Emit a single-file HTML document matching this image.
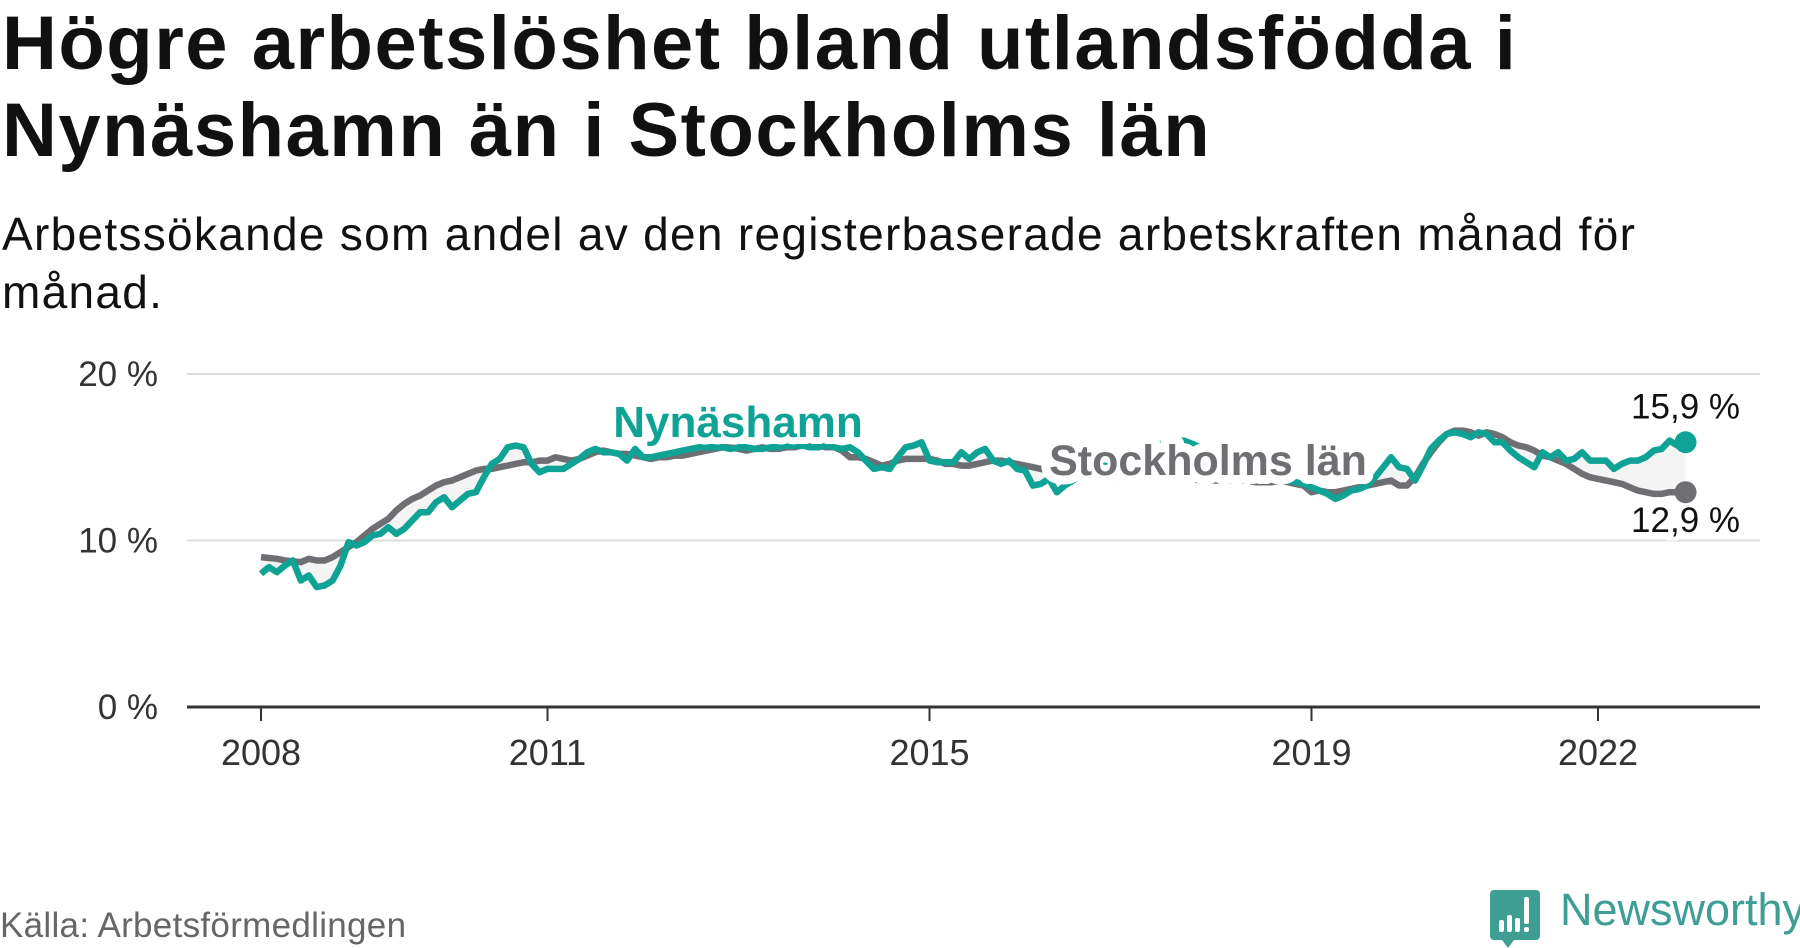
<!DOCTYPE html>
<html><head><meta charset="utf-8">
<style>
html,body{margin:0;padding:0;background:#fff;}
body{width:1800px;height:948px;overflow:hidden;position:relative;font-family:"Liberation Sans","DejaVu Sans",sans-serif;}
h1{position:absolute;left:2px;top:0px;margin:0;font-size:76px;line-height:87px;font-weight:bold;color:#111;letter-spacing:1.5px;width:1790px;white-space:nowrap;}
.sub{position:absolute;left:2px;top:205px;margin:0;font-size:46px;line-height:58px;color:#111;width:1790px;white-space:nowrap;letter-spacing:1.3px;}
.src{position:absolute;left:0;top:906px;font-size:35px;color:#666;letter-spacing:0.3px;}
svg{position:absolute;left:0;top:0;}
</style></head><body>
<h1>Högre arbetslöshet bland utlandsfödda i<br>Nynäshamn än i Stockholms län</h1>
<p class="sub">Arbetssökande som andel av den registerbaserade arbetskraften månad för<br>månad.</p>
<div class="src">Källa: Arbetsförmedlingen</div>
<svg id="chart" width="1800" height="948"></svg>
<svg width="1800" height="948" style="pointer-events:none">
  <path d="M1494 890 h42 a4 4 0 0 1 4 4 v42 a4 4 0 0 1 -4 4 h-22 l-6 8 l-6 -8 h-8 a4 4 0 0 1 -4 -4 v-42 a4 4 0 0 1 4 -4z" fill="#3e9e94"/>
  <rect x="1499" y="920" width="5" height="12" rx="2" fill="#fff"/>
  <rect x="1507" y="915" width="5" height="17" rx="2" fill="#fff"/>
  <rect x="1515" y="918" width="5" height="14" rx="2" fill="#fff"/>
  <rect x="1524" y="897" width="5" height="27" rx="2" fill="#fff"/>
  <rect x="1524" y="927" width="5" height="5" rx="2" fill="#fff"/>
  <text x="1560" y="925" font-size="45" font-family="Liberation Sans, sans-serif" fill="#3e9e94">Newsworthy</text>
</svg>
<script>
const yTicks = [0, 10, 20];
const xTickYears = [2008, 2011, 2015, 2019, 2022];
const startYear = 2008;
const stockholm = [
9.0,8.95,8.9,8.8,8.75,8.7,8.9,8.8,8.8,9.0,9.3,9.6,
9.9,10.3,10.7,11.0,11.3,11.8,12.2,12.5,12.7,13.0,13.3,13.5,
13.6,13.8,14.0,14.2,14.3,14.3,14.4,14.5,14.6,14.7,14.7,14.8,
14.8,15.0,14.9,14.8,14.9,15.1,15.3,15.4,15.3,15.2,15.2,15.1,
15.0,14.9,15.0,15.0,15.1,15.1,15.2,15.3,15.4,15.5,15.6,15.6,
15.5,15.4,15.5,15.6,15.5,15.5,15.6,15.6,15.7,15.7,15.7,15.6,
15.6,15.4,15.0,15.0,14.9,14.7,14.5,14.6,14.8,14.9,14.9,14.9,
14.9,14.8,14.6,14.6,14.5,14.5,14.6,14.7,14.8,14.8,14.7,14.6,
14.5,14.4,14.3,14.2,14.1,14.0,13.9,13.9,13.8,13.8,13.8,13.8,
13.8,13.8,13.8,13.7,13.7,13.7,13.7,13.7,13.7,13.7,13.6,13.6,
13.6,13.6,13.6,13.6,13.6,13.5,13.5,13.5,13.6,13.5,13.4,13.3,
12.9,13.0,12.9,12.9,13.0,13.1,13.2,13.3,13.4,13.5,13.6,13.3,
13.3,13.8,14.6,15.3,15.9,16.4,16.6,16.6,16.5,16.3,16.5,16.4,
16.2,15.9,15.7,15.6,15.4,15.1,15.0,14.8,14.6,14.3,14.0,13.8,
13.7,13.6,13.5,13.4,13.2,13.0,12.9,12.8,12.8,12.9,12.9,12.9];
const nynashamn = [
8.0,8.4,8.1,8.5,8.8,7.6,7.9,7.2,7.3,7.6,8.5,9.9,
9.7,9.9,10.3,10.4,10.8,10.4,10.7,11.2,11.7,11.7,12.3,12.6,
12.0,12.4,12.8,12.9,13.8,14.6,14.9,15.6,15.7,15.6,14.6,14.1,
14.3,14.3,14.3,14.6,14.9,15.3,15.5,15.3,15.3,15.2,14.8,15.5,
15.0,15.0,15.1,15.2,15.3,15.4,15.5,15.6,15.6,15.6,15.6,15.5,
15.6,15.6,15.5,15.5,15.6,15.6,15.7,15.7,15.7,15.6,15.6,15.7,
15.6,15.5,15.6,15.3,14.8,14.3,14.4,14.3,15.0,15.6,15.7,15.9,
14.8,14.7,14.7,14.7,15.3,14.9,15.3,15.5,14.8,14.6,14.8,14.3,
14.2,13.3,13.4,13.7,12.9,13.3,13.6,13.9,14.2,14.4,14.6,14.8,
14.9,15.0,15.2,15.5,15.7,15.8,15.9,16.0,16.0,15.8,15.6,15.4,
15.2,15.0,14.8,14.6,14.4,14.2,14.0,13.9,13.8,13.6,13.5,13.4,
13.2,13.0,12.8,12.5,12.7,13.0,13.1,13.3,13.8,14.4,15.0,14.4,
14.3,13.6,14.5,15.5,16.0,16.4,16.5,16.4,16.2,16.5,16.4,15.9,
15.9,15.4,15.0,14.7,14.4,15.3,15.0,15.3,14.8,14.9,15.3,14.8,
14.8,14.8,14.3,14.6,14.8,14.8,15.0,15.4,15.5,16.0,15.7,15.9];

const NS='http://www.w3.org/2000/svg';
const svg=document.getElementById('chart');
const X0=261, PER_YEAR=95.5, Y0=707, Y20=374;
const xScale = t => X0 + (t - startYear) * PER_YEAR;
const yScale = v => Y0 - (v / 20) * (Y0 - Y20);
const xi = i => xScale(startYear + i / 12);
function mk(tag, attrs){const e=document.createElementNS(NS,tag);for(const k in attrs)e.setAttribute(k,attrs[k]);svg.appendChild(e);return e;}

yTicks.forEach(v=>{
  if(v>0){
    const g=mk('line',{x1:187,x2:1760,y1:yScale(v),y2:yScale(v),stroke:'#dddddd','stroke-width':2});
    
    
  }
  const t=mk('text',{x:158,y:yScale(v)+12,'text-anchor':'end','font-size':35,fill:'#333'});
  t.textContent=v+' %';
  
  
});

let d='M'+stockholm.map((v,i)=>xi(i)+','+yScale(v)).join('L');
for(let i=nynashamn.length-1;i>=0;i--) d+='L'+xi(i)+','+yScale(nynashamn[i]);
const area=mk('path',{d:d+'Z',fill:'#f4f4f4'});



function line(arr,col,name){
  const p=mk('path',{d:'M'+arr.map((v,i)=>xi(i)+','+yScale(v)).join('L'),fill:'none',stroke:col,'stroke-width':6.5,'stroke-linejoin':'round'});
  
  
}
line(stockholm,'#6f6e73','stockholm-line');
line(nynashamn,'#0ea394','nynashamn-line');

const ax=mk('line',{x1:187,x2:1760,y1:Y0,y2:Y0,stroke:'#333','stroke-width':3});


xTickYears.forEach(y=>{
  const tk=mk('line',{x1:xScale(y),x2:xScale(y),y1:Y0,y2:Y0+14,stroke:'#333','stroke-width':2});
  
  
  const t=mk('text',{x:xScale(y),y:765,'text-anchor':'middle','font-size':36,fill:'#333'});
  t.textContent=y;
  
  
});

const n=stockholm.length-1;
const d1=mk('circle',{cx:xi(n),cy:yScale(nynashamn[n]),r:11,fill:'#0ea394'});


const d2=mk('circle',{cx:xi(n),cy:yScale(stockholm[n]),r:11,fill:'#6f6e73'});


const v1=mk('text',{x:xi(n),y:yScale(nynashamn[n])-24,'text-anchor':'middle','font-size':35,fill:'#111',stroke:'#fff','stroke-width':8,'paint-order':'stroke'});
v1.textContent=nynashamn[n].toFixed(1).replace('.',',')+' %';


const v2=mk('text',{x:xi(n),y:yScale(stockholm[n])+40,'text-anchor':'middle','font-size':35,fill:'#111',stroke:'#fff','stroke-width':8,'paint-order':'stroke'});
v2.textContent=stockholm[n].toFixed(1).replace('.',',')+' %';



const l1=mk('text',{x:738,y:437,'text-anchor':'middle','font-size':44,'font-weight':'bold',fill:'#0ea394',stroke:'#fff','stroke-width':14,'paint-order':'stroke','stroke-linejoin':'round'});
l1.textContent='Nynäshamn';


const l2=mk('text',{x:1208,y:475,'text-anchor':'middle','font-size':43,'font-weight':'bold',fill:'#6f6e73',stroke:'#fff','stroke-width':18,'paint-order':'stroke','stroke-linejoin':'round'});
l2.textContent='Stockholms län';


</script>
</body></html>
